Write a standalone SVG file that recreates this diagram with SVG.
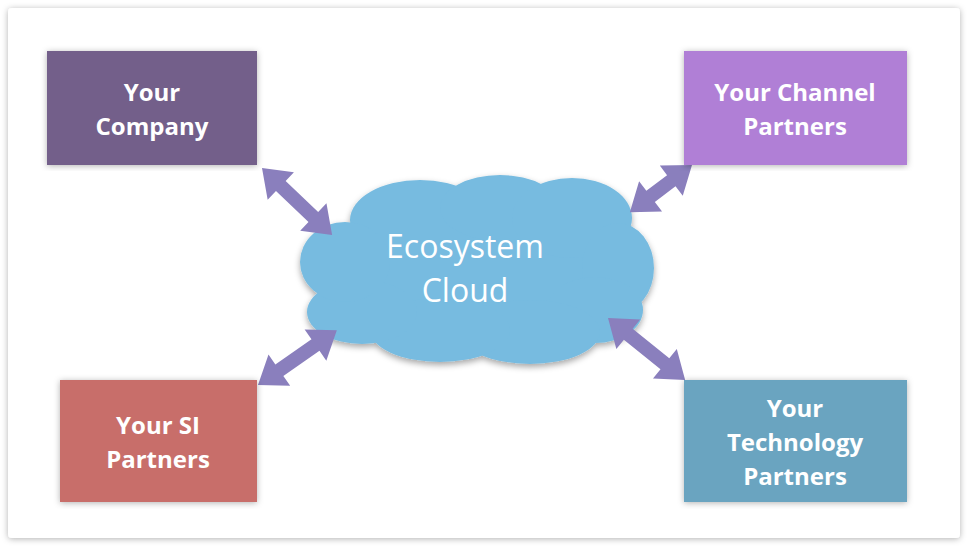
<svg xmlns="http://www.w3.org/2000/svg" width="970" height="548" viewBox="0 0 970 548">
<defs>
<filter id="sh" x="-10%" y="-10%" width="120%" height="130%"><feDropShadow dx="0" dy="3" stdDeviation="3" flood-color="#000" flood-opacity="0.35"/></filter>
<filter id="fs" x="-5%" y="-5%" width="110%" height="110%"><feDropShadow dx="0" dy="1" stdDeviation="3" flood-color="#000" flood-opacity="0.3"/></filter>
<style>
.lbl{font-family:"Open Sans","Noto Sans",sans-serif;font-weight:bold;font-size:24px;fill:#fff;text-anchor:middle}
.arr{fill:#8a7fbd}
.cl{fill:#77bbe0}
</style>
</defs>
<rect x="8" y="8" width="952" height="530" rx="4" fill="#fff" filter="url(#fs)"/>
<g id="cloud">
<g filter="url(#sh)" class="cl">
<ellipse cx="476" cy="272" rx="150" ry="65"/>
<ellipse cx="420" cy="220" rx="70" ry="40"/>
<ellipse cx="500" cy="208" rx="60" ry="33"/>
<ellipse cx="572" cy="218" rx="60" ry="40"/>
<ellipse cx="618" cy="268" rx="36" ry="45"/>
<ellipse cx="595" cy="310" rx="48" ry="33"/>
<ellipse cx="530" cy="332" rx="70" ry="32"/>
<ellipse cx="440" cy="330" rx="70" ry="32"/>
<ellipse cx="362" cy="312" rx="55" ry="32"/>
<ellipse cx="345" cy="262" rx="45" ry="40"/>
</g>
<text x="465" y="258" font-family="'Open Sans','Noto Sans',sans-serif" font-size="32" fill="#fff" text-anchor="middle">Ecosystem</text>
<text x="465" y="302" font-family="'Open Sans','Noto Sans',sans-serif" font-size="32" fill="#fff" text-anchor="middle">Cloud</text>
</g>
<g id="connectors">
<g transform="translate(262,168) rotate(43.7)"><polygon class="arr" points="0,0 26,-19 26,-7 71,-7 71,-19 97,0 71,19 71,7 26,7 26,19"/></g>
<g transform="translate(692,165) rotate(142.8)"><polygon class="arr" points="0,0 26,-19 26,-7 52,-7 52,-19 78,0 52,19 52,7 26,7 26,19"/></g>
<g transform="translate(258,385) rotate(-34.8)"><polygon class="arr" points="0,0 26,-19 26,-7 70,-7 70,-19 96,0 70,19 70,7 26,7 26,19"/></g>
<g transform="translate(608,318) rotate(38.8)"><polygon class="arr" points="0,0 26,-19 26,-7 73,-7 73,-19 99,0 73,19 73,7 26,7 26,19"/></g>
</g>
<g id="company"><rect x="47" y="51" width="210" height="114" fill="#735f8a" filter="url(#fs)"/><text class="lbl" x="152" y="101">Your</text><text class="lbl" x="152" y="135">Company</text></g>
<g id="channel"><rect x="684" y="51" width="223" height="114" fill="#b07fd6" filter="url(#fs)"/><text class="lbl" x="795" y="101">Your Channel</text><text class="lbl" x="795" y="135">Partners</text></g>
<g id="si"><rect x="60" y="380" width="197" height="122" fill="#c86e6a" filter="url(#fs)"/><text class="lbl" x="158" y="434">Your SI</text><text class="lbl" x="158" y="468">Partners</text></g>
<g id="tech"><rect x="684" y="380" width="223" height="122" fill="#6aa4c0" filter="url(#fs)"/><text class="lbl" x="795" y="417">Your</text><text class="lbl" x="795" y="451">Technology</text><text class="lbl" x="795" y="485">Partners</text></g>
</svg>
